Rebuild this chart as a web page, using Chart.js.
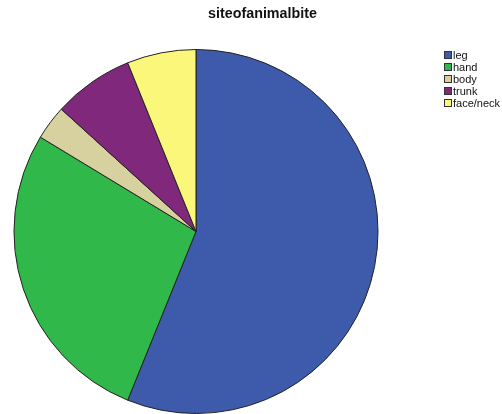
<!DOCTYPE html>
<html>
<head>
<meta charset="utf-8">
<script src="https://cdn.jsdelivr.net/npm/chart.js@4"></script>
<style>
  html, body { margin: 0; padding: 0; background: #fff; overflow: hidden; }
  #wrap { position: relative; width: 502px; height: 414px; overflow: hidden; }
  #c { position: absolute; left: 0; top: 0; }
  #title { position: absolute; left: 0; width: 525px; top: 5px; text-align: center;
           font: bold 14.3px "Liberation Sans", Arial, sans-serif; color: #111; line-height: 16px; }
  #legend { position: absolute; left: 444px; top: 49px; font: 11px "Liberation Sans", Arial, sans-serif; color: #111; white-space: nowrap; }
  .row { height: 12px; line-height: 12px; display: flex; align-items: center; }
  .sw { width: 6px; height: 6px; border: 1px solid #333; margin-right: 1px; flex: none; }
</style>
</head>
<body>
<div id="wrap">
  <canvas id="c" width="502" height="414"></canvas>
  <div id="title"></div>
  <div id="legend"></div>
</div>
<script>
const titleText = "siteofanimalbite";
const categories = ["leg", "hand", "body", "trunk", "face/neck"];
const counts = [110, 54, 6, 14, 12];
const colors = ["#3e5aab", "#31b84a", "#d7d09f", "#7f287c", "#fbf77a"];

document.getElementById('title').textContent = titleText;
const leg = document.getElementById('legend');
categories.forEach((c, i) => {
  const r = document.createElement('div'); r.className = 'row';
  const s = document.createElement('span'); s.className = 'sw'; s.style.background = colors[i];
  const t = document.createElement('span'); t.textContent = c;
  r.appendChild(s); r.appendChild(t); leg.appendChild(r);
});

new Chart(document.getElementById('c'), {
  type: 'pie',
  data: {
    labels: categories,
    datasets: [{
      data: counts,
      backgroundColor: colors,
      borderColor: '#222',
      borderWidth: 1,
      borderAlign: 'center'
    }]
  },
  options: {
    responsive: false,
    animation: false,
    devicePixelRatio: 1,
    layout: { padding: { left: 13, right: 123, top: 49, bottom: 0 } },
    plugins: { legend: { display: false }, title: { display: false }, tooltip: { enabled: false } }
  }
});
</script>
</body>
</html>
